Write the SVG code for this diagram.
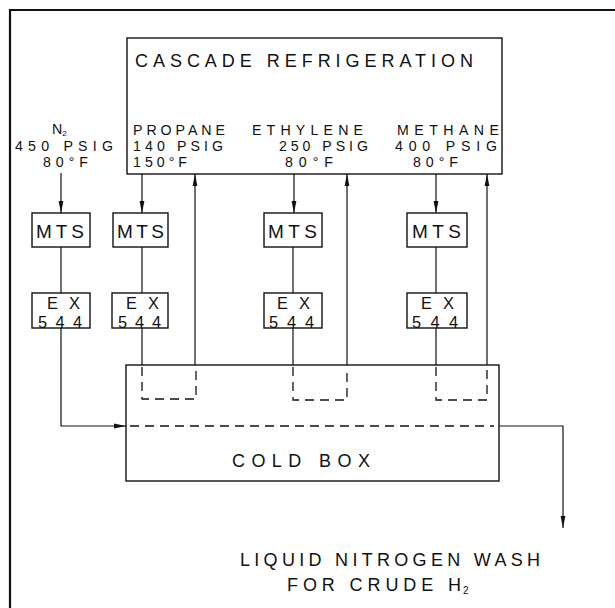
<svg xmlns="http://www.w3.org/2000/svg" width="615" height="608" viewBox="0 0 615 608">
<defs>
<style>
.box{fill:none;stroke:#111;stroke-width:1.4}
.ln{fill:none;stroke:#111;stroke-width:1.2}
.dash{fill:none;stroke:#111;stroke-width:1.3;stroke-dasharray:9 6}
.frame{fill:none;stroke:#111;stroke-width:2.2}
text{font-family:"Liberation Sans","DejaVu Sans",Arial,sans-serif;fill:#111}
.lbl{font-size:14.2px}
.big{font-size:18px}
.mts{font-size:19px}
.ex{font-size:16.4px}
.sub{font-size:8px}
.sub2{font-size:10px}
</style>
<marker id="ah" viewBox="0 0 12 6" refX="12" refY="3" markerWidth="12" markerHeight="6" markerUnits="userSpaceOnUse" orient="auto">
<path d="M0,0.6 L12,3 L0,5.4 Z" fill="#111"/>
</marker>
</defs>
<rect width="615" height="608" fill="#fff"/>
<path class="frame" d="M10,608 V10 H615"/>

<g id="cascade">
<rect class="box" x="127" y="38" width="375" height="136"/>
<text class="big" x="135" y="67" textLength="338" lengthAdjust="spacing">CASCADE  REFRIGERATION</text>
<text class="lbl"><tspan x="133" y="135" textLength="92" lengthAdjust="spacing">PROPANE</tspan><tspan x="133" y="151" textLength="90" lengthAdjust="spacing">140 PSIG</tspan><tspan x="133" y="167" textLength="54" lengthAdjust="spacing">150°F</tspan></text>
<text class="lbl"><tspan x="252" y="135" textLength="111" lengthAdjust="spacing">ETHYLENE</tspan><tspan x="279" y="151" textLength="89" lengthAdjust="spacing">250 PSIG</tspan><tspan x="285" y="167" textLength="48" lengthAdjust="spacing">80°F</tspan></text>
<text class="lbl"><tspan x="397" y="135" textLength="102" lengthAdjust="spacing">METHANE</tspan><tspan x="395" y="151" textLength="102" lengthAdjust="spacing">400 PSIG</tspan><tspan x="413" y="167" textLength="45" lengthAdjust="spacing">80°F</tspan></text>
</g>

<g id="n2-feed">
<text class="lbl"><tspan x="52" y="134">N</tspan><tspan class="sub" dy="2">2</tspan><tspan x="15" y="151" textLength="98" lengthAdjust="spacing">450 PSIG</tspan><tspan x="43" y="167" textLength="45" lengthAdjust="spacing">80°F</tspan></text>
</g>

<g id="mts-n2">
<rect class="box" x="32" y="213" width="58" height="34"/>
<text class="mts" x="36" y="238" textLength="48" lengthAdjust="spacing">MTS</text>
</g>
<g id="mts-propane">
<rect class="box" x="113" y="213" width="55" height="34"/>
<text class="mts" x="117" y="238" textLength="47" lengthAdjust="spacing">MTS</text>
</g>
<g id="mts-ethylene">
<rect class="box" x="264" y="213" width="58" height="34"/>
<text class="mts" x="268" y="238" textLength="49" lengthAdjust="spacing">MTS</text>
</g>
<g id="mts-methane">
<rect class="box" x="407" y="213" width="60" height="34"/>
<text class="mts" x="412" y="238" textLength="49" lengthAdjust="spacing">MTS</text>
</g>

<g id="ex-n2">
<rect class="box" x="32" y="293" width="58" height="35"/>
<text class="ex"><tspan x="47" y="309" textLength="33" lengthAdjust="spacing">EX</tspan><tspan x="38" y="327.5" textLength="44" lengthAdjust="spacing">544</tspan></text>
</g>
<g id="ex-propane">
<rect class="box" x="112" y="293" width="56" height="35"/>
<text class="ex"><tspan x="126" y="309" textLength="33" lengthAdjust="spacing">EX</tspan><tspan x="118" y="327.5" textLength="43" lengthAdjust="spacing">544</tspan></text>
</g>
<g id="ex-ethylene">
<rect class="box" x="264" y="293" width="58" height="35"/>
<text class="ex"><tspan x="277" y="309" textLength="33" lengthAdjust="spacing">EX</tspan><tspan x="269" y="327.5" textLength="45" lengthAdjust="spacing">544</tspan></text>
</g>
<g id="ex-methane">
<rect class="box" x="407" y="293" width="60" height="35"/>
<text class="ex"><tspan x="421" y="309" textLength="33" lengthAdjust="spacing">EX</tspan><tspan x="412" y="327.5" textLength="46" lengthAdjust="spacing">544</tspan></text>
</g>

<g id="cold-box">
<rect class="box" x="126" y="365" width="373" height="116"/>
<text class="big" x="232" y="467" textLength="138" lengthAdjust="spacing">COLD BOX</text>
</g>

<g id="product">
<text class="big"><tspan x="240" y="566" textLength="300" lengthAdjust="spacing">LIQUID NITROGEN WASH</tspan><tspan x="287" y="591" textLength="174" lengthAdjust="spacing">FOR CRUDE H</tspan><tspan class="sub2" x="463" y="594">2</tspan></text>
</g>

<g id="connectors">
<path class="ln" d="M61,173 V213" marker-end="url(#ah)"/>
<path class="ln" d="M61,247 V293"/>
<path class="ln" d="M61,328 V426 H126" marker-end="url(#ah)"/>
<path class="dash" d="M130,426 H494"/>
<path class="ln" d="M499,426 H563 V528" marker-end="url(#ah)"/>
<path class="ln" d="M142,174 V213" marker-end="url(#ah)"/>
<path class="ln" d="M142,247 V293"/>
<path class="ln" d="M142,328 V365"/>
<path class="dash" d="M142,367 V399 H196 V367"/>
<path class="ln" d="M195,365 V174" marker-end="url(#ah)"/>
<path class="ln" d="M294,174 V213" marker-end="url(#ah)"/>
<path class="ln" d="M293,247 V293"/>
<path class="ln" d="M293,328 V365"/>
<path class="dash" d="M293,367 V400 H347 V367"/>
<path class="ln" d="M347,365 V174" marker-end="url(#ah)"/>
<path class="ln" d="M436,174 V213" marker-end="url(#ah)"/>
<path class="ln" d="M436,247 V293"/>
<path class="ln" d="M436,328 V365"/>
<path class="dash" d="M436,367 V400 H487 V367"/>
<path class="ln" d="M487,365 V174" marker-end="url(#ah)"/>
</g>
</svg>
